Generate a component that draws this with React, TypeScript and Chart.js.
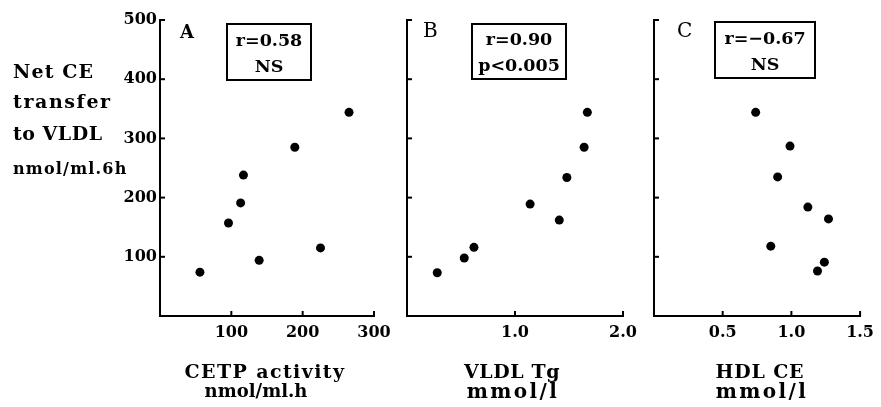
import React, { useEffect, useRef } from 'react';
import { Chart, registerables } from 'chart.js';

Chart.register(...registerables);

// ---- data ----
const yTickValues = [100, 200, 300, 400, 500];

const cetpActivity = [56, 96, 113, 117, 139, 189, 225, 265];
const transferA = [74, 157, 191, 238, 94, 285, 115, 344];
const xTicksA = [100, 200, 300];

const vldlTg = [0.28, 0.53, 0.62, 1.14, 1.41, 1.48, 1.64, 1.67];
const transferB = [73, 98, 116, 189, 162, 234, 285, 344];
const xTicksB = [1.0, 2.0];

const hdlCE = [0.74, 0.99, 0.9, 1.12, 1.27, 0.85, 1.24, 1.19];
const transferC = [344, 287, 235, 184, 164, 118, 91, 76];
const xTicksC = [0.5, 1.0, 1.5];

const W = 881;
const H = 407;
const FONT = '"DejaVu Serif", serif';

const inwardTicks = {
  id: 'inwardTicks',
  afterDraw(chart: any, _args: any, opts: any) {
    const ctx = chart.ctx;
    const xs = chart.scales.x;
    const ys = chart.scales.y;
    ctx.save();
    ctx.strokeStyle = '#000';
    ctx.lineWidth = 2;
    for (const v of opts.xTicks) {
      const px = xs.getPixelForValue(v);
      ctx.beginPath();
      ctx.moveTo(px, ys.bottom);
      ctx.lineTo(px, ys.bottom - 5);
      ctx.stroke();
    }
    for (const v of opts.yTicks) {
      const py = ys.getPixelForValue(v);
      ctx.beginPath();
      ctx.moveTo(xs.left, py);
      ctx.lineTo(xs.left + 5, py);
      ctx.stroke();
    }
    ctx.restore();
  },
};

type PanelProps = {
  xs: number[];
  ys: number[];
  xMax: number;
  xTicks: number[];
  decimals: number;
  left: number;
  right: number;
  showY: boolean;
};

function Panel({ xs, ys, xMax, xTicks, decimals, left, right, showY }: PanelProps) {
  const ref = useRef<HTMLCanvasElement>(null);
  useEffect(() => {
    if (!ref.current) return;
    const yWidth = showY ? 60 : 2;
    const xHeight = 40;
    const top = 20;
    const bottom = 316;
    const chart = new Chart(ref.current, {
      type: 'scatter',
      data: {
        datasets: [
          {
            data: xs.map((x, i) => ({ x, y: ys[i] })),
            backgroundColor: '#000',
            borderColor: '#000',
            borderWidth: 0,
            pointRadius: 4.5,
            pointHoverRadius: 4.5,
          },
        ],
      },
      plugins: [inwardTicks],
      options: {
        responsive: false,
        animation: false,
        events: [],
        layout: {
          padding: {
            left: left - yWidth,
            right: W - right,
            top,
            bottom: H - bottom - xHeight,
          },
        },
        plugins: {
          legend: { display: false },
          tooltip: { enabled: false },
          inwardTicks: { xTicks, yTicks: yTickValues },
        } as any,
        scales: {
          x: {
            type: 'linear',
            min: 0,
            max: xMax,
            grid: { display: false, drawTicks: false },
            border: { display: true, color: '#000', width: 2 },
            afterBuildTicks: (s: any) => {
              s.ticks = [0, ...xTicks].map((v) => ({ value: v }));
            },
            afterFit: (s: any) => {
              s.height = xHeight;
            },
            ticks: {
              color: '#000',
              padding: 7,
              maxRotation: 0,
              autoSkip: false,
              font: { family: FONT, size: 16, weight: 'bold' },
              callback: (v: any) => (Number(v) === 0 ? '' : Number(v).toFixed(decimals)),
            },
          },
          y: {
            type: 'linear',
            min: 0,
            max: 500,
            grid: { display: false, drawTicks: false },
            border: { display: true, color: '#000', width: 2 },
            afterBuildTicks: (s: any) => {
              s.ticks = [0, ...yTickValues].map((v) => ({ value: v }));
            },
            afterFit: (s: any) => {
              s.width = yWidth;
            },
            ticks: {
              display: showY,
              color: '#000',
              padding: 3,
              autoSkip: false,
              font: { family: FONT, size: 16, weight: 'bold' },
              callback: (v: any) => (Number(v) === 0 ? '' : String(v)),
            },
          },
        },
      } as any,
    });
    return () => chart.destroy();
  }, []);
  return (
    <canvas
      ref={ref}
      width={W}
      height={H}
      style={{ position: 'absolute', left: 0, top: 0, width: W, height: H }}
    />
  );
}

type TxtProps = {
  x: number;
  baseline: number;
  size: number;
  bold?: boolean;
  center?: boolean;
  spacing?: number;
  children: React.ReactNode;
};

function Txt({ x, baseline, size, bold = true, center = false, spacing = 0, children }: TxtProps) {
  return (
    <div
      style={{
        position: 'absolute',
        left: x,
        top: baseline - Math.round(size * 0.846),
        fontFamily: FONT,
        fontSize: size,
        lineHeight: `${size}px`,
        fontWeight: bold ? 'bold' : 'normal',
        letterSpacing: spacing,
        whiteSpace: 'nowrap',
        color: '#000',
        transform: center ? 'translateX(-50%)' : undefined,
      }}
    >
      {children}
    </div>
  );
}

function Box({ l, t, r, b }: { l: number; t: number; r: number; b: number }) {
  return (
    <div
      style={{
        position: 'absolute',
        left: l,
        top: t,
        width: r - l,
        height: b - t,
        border: '2px solid #000',
        boxSizing: 'border-box',
      }}
    />
  );
}

export default function App() {
  useEffect(() => {
    document.body.style.margin = '0';
    document.body.style.background = '#fff';
  }, []);
  return (
    <div style={{ position: 'relative', width: W, height: H, background: '#fff', overflow: 'hidden' }}>
      <Panel xs={cetpActivity} ys={transferA} xMax={300} xTicks={xTicksA} decimals={0} left={160} right={374} showY={true} />
      <Panel xs={vldlTg} ys={transferB} xMax={2} xTicks={xTicksB} decimals={1} left={407} right={623} showY={false} />
      <Panel xs={hdlCE} ys={transferC} xMax={1.5} xTicks={xTicksC} decimals={1} left={654} right={868} showY={false} />

      {/* y-axis title */}
      <Txt x={13} baseline={78} size={19} spacing={1.1}>Net CE</Txt>
      <Txt x={13} baseline={108} size={19} spacing={1.6}>transfer</Txt>
      <Txt x={13} baseline={140} size={19} spacing={0.5}>to VLDL</Txt>
      <Txt x={13} baseline={175} size={16} spacing={1.2}>nmol/ml.6h</Txt>

      {/* panel letters */}
      <Txt x={180} baseline={38} size={18}>A</Txt>
      <Txt x={423} baseline={37} size={20} bold={false}>B</Txt>
      <Txt x={677} baseline={37} size={20} bold={false}>C</Txt>

      {/* stat boxes */}
      <Box l={226} t={23} r={312} b={81} />
      <Txt x={269} baseline={47} size={17.5} center>r=0.58</Txt>
      <Txt x={269} baseline={73} size={17.5} center>NS</Txt>

      <Box l={471} t={23} r={567} b={80} />
      <Txt x={519} baseline={46} size={17.5} center>r=0.90</Txt>
      <Txt x={519} baseline={72} size={17.5} center>p&lt;0.005</Txt>

      <Box l={714} t={21} r={816} b={79} />
      <Txt x={765} baseline={45} size={17.5} center>r=−0.67</Txt>
      <Txt x={765} baseline={71} size={17.5} center>NS</Txt>

      {/* x-axis titles */}
      <Txt x={265} baseline={378} size={19} spacing={1.4} center>CETP activity</Txt>
      <Txt x={256} baseline={397} size={18} spacing={0} center>nmol/ml.h</Txt>
      <Txt x={512} baseline={378} size={19} spacing={0.6} center>VLDL Tg</Txt>
      <Txt x={513} baseline={398} size={20} spacing={2.4} center>mmol/l</Txt>
      <Txt x={760} baseline={378} size={19} spacing={0.8} center>HDL CE</Txt>
      <Txt x={762} baseline={398} size={20} spacing={2.4} center>mmol/l</Txt>
    </div>
  );
}
